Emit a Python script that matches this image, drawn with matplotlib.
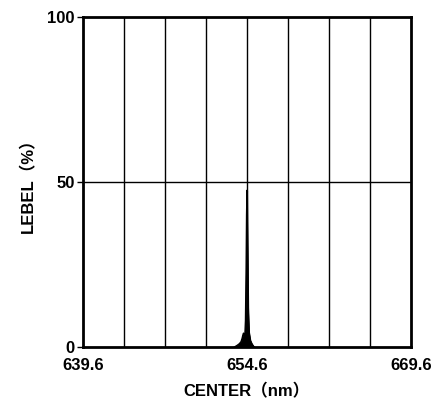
import matplotlib
matplotlib.use("Agg")
import matplotlib.pyplot as plt
import numpy as np

# Spectrum data (wavelength nm, level %)
wavelength = [653.45, 653.7, 653.9, 654.05, 654.15, 654.22, 654.28, 654.34, 654.40,
              654.46, 654.52, 654.56, 654.60, 654.65, 654.70, 654.78, 654.9, 655.05, 655.25]
level = [0.0, 0.5, 1.0, 1.6, 2.6, 3.6, 4.2, 3.6, 3.2,
         8.0, 24.0, 40.0, 47.5, 30.0, 12.0, 4.5, 2.0, 0.9, 0.0]

x_ticks = [639.6, 654.6, 669.6]
y_ticks = [0, 50, 100]
x_min, x_max = 639.6, 669.6
n_vdiv = 8

FAM = ['Liberation Sans', 'Noto Sans CJK JP', 'DejaVu Sans']
plt.rcParams['font.family'] = FAM

fig = plt.figure(figsize=(4.32, 4.01), dpi=100)
ax = fig.add_axes([83/432, 54/401, 328/432, 330/401])

# grid
for xv in np.linspace(x_min, x_max, n_vdiv + 1)[1:-1]:
    ax.axvline(xv, color='black', lw=1.0, zorder=1)
ax.axhline(50, color='black', lw=1.0, zorder=1)

ax.fill_between(wavelength, level, 0, color='black', lw=0.8, zorder=2)
ax.plot(wavelength, level, color='black', lw=1.0, zorder=2)

ax.set_xlim(x_min, x_max)
ax.set_ylim(0, 100)
ax.set_xticks(x_ticks)
ax.set_xticklabels([f"{v:.1f}" for v in x_ticks])
ax.set_yticks(y_ticks)
ax.set_yticklabels([str(v) for v in y_ticks])
ax.tick_params(axis='x', length=0, pad=8, labelsize=12)
ax.tick_params(axis='y', length=4, width=1, pad=2, labelsize=12)
for lab in ax.get_xticklabels() + ax.get_yticklabels():
    lab.set_fontweight('bold')

for s in ax.spines.values():
    s.set_linewidth(2.0)

ax.set_xlabel('CENTER（nm）', fontsize=12, fontweight='bold', labelpad=7)
ax.set_ylabel('LEBEL（%）', fontsize=12, fontweight='bold', labelpad=8)

fig.savefig('out.png', dpi=100)
